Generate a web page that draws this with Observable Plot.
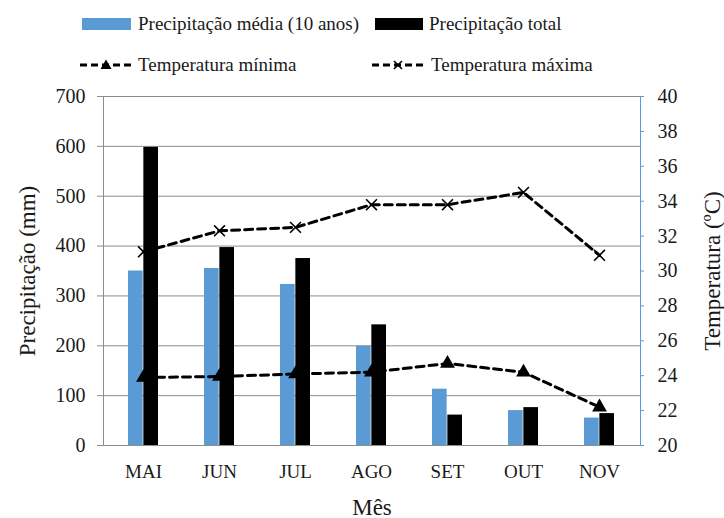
<!DOCTYPE html>
<html><head><meta charset="utf-8">
<script src="https://cdn.jsdelivr.net/npm/d3@7"></script>
<script src="https://cdn.jsdelivr.net/npm/@observablehq/plot@0.6"></script>
<style>
body{margin:0;background:#fff;font-family:"Liberation Serif","Times New Roman",serif;}
#wrap{width:724px;height:518px;position:relative;background:#fff;}
#legend{position:relative;height:80px;width:724px;font-size:19px;color:#1a1a1a;font-family:"Liberation Serif","Times New Roman",serif;}
.item{position:absolute;height:24px;display:flex;align-items:center;white-space:nowrap;}
.item span.lbl{font-family:"Liberation Serif","Times New Roman",serif;}
.sw{display:inline-block;height:12px;}
</style></head><body>
<div id="wrap"><div id="legend"></div><div id="chart"></div></div>
<script>
const months = ["MAI","JUN","JUL","AGO","SET","OUT","NOV"];
const precipMedia = [350, 355, 323, 199, 113, 70, 55];
const precipTotal = [598, 397, 375, 242, 61, 76, 64];
const tempMin = [23.9, 23.95, 24.1, 24.2, 24.7, 24.2, 22.2];
const tempMax = [31.1, 32.3, 32.5, 33.8, 33.8, 34.5, 30.9];
const precipTicks = [0, 100, 200, 300, 400, 500, 600, 700];
const tempTicks = [20, 22, 24, 26, 28, 30, 32, 34, 36, 38, 40];
const seriesNames = ["Precipitação média (10 anos)", "Precipitação total", "Temperatura mínima", "Temperatura máxima"];

const BLUE = "#5B9BD5";
// legend
const legend = document.getElementById("legend");
function addItem(left, cy, swatchHTML, label, gap) {
  const d = document.createElement("div");
  d.className = "item";
  d.style.left = left + "px";
  d.style.top = (cy - 12) + "px";
  d.innerHTML = swatchHTML + `<span class="lbl" style="margin-left:${gap}px">${label}</span>`;
  legend.appendChild(d);
}
const lineSw = (sym) => `<svg width="52" height="14" style="display:block"><line x1="0" x2="52" y1="7" y2="7" stroke="#000" stroke-width="3" stroke-dasharray="7,4"/>${sym}</svg>`;
addItem(82, 24, `<span class="sw" style="width:49px;background:${BLUE}"></span>`, seriesNames[0], 7);
addItem(375, 24, `<span class="sw" style="width:48px;background:#000"></span>`, seriesNames[1], 6);
addItem(80, 65, lineSw(`<path d="M26,1.5 L31.5,11 L20.5,11 Z" fill="#000"/>`), seriesNames[2], 6);
addItem(372, 65, lineSw(`<path d="M22,3 L30,11 M30,3 L22,11" stroke="#000" stroke-width="1.6"/>`), seriesNames[3], 7);

// chart
const W = 724, H = 438, ML = 103, MR = 84, MT = 16, MB = 73;
const step = (W - ML - MR) / months.length;
const half = step * 0.4 / 2;
const rows = months.map((m, i) => ({month: m, media: precipMedia[i], total: precipTotal[i], tmin: tempMin[i], tmax: tempMax[i]}));
const t2y = t => (t - 20) * 35;

const chart = Plot.plot({
  width: W, height: H, marginLeft: ML, marginRight: MR, marginTop: MT, marginBottom: MB,
  style: {fontFamily: "'Liberation Serif', 'Times New Roman', serif", background: "white", color: "#1a1a1a", overflow: "visible"},
  x: {type: "band", domain: months, paddingInner: 0.6, paddingOuter: 0.3, axis: null},
  y: {domain: [0, 700], axis: null, label: null},
  marks: [
    Plot.gridY(precipTicks, {stroke: "#8c8c8c", strokeOpacity: 1, strokeWidth: 1}),
    Plot.barY(rows, {x: "month", y: "media", fill: BLUE, insetRight: half}),
    Plot.barY(rows, {x: "month", y: "total", fill: "#000", insetLeft: half}),
    Plot.frame({anchor: "left", stroke: "#8c8c8c"}),
    Plot.frame({anchor: "right", stroke: BLUE, strokeDasharray: "1,1"}),
    Plot.axisY(precipTicks, {anchor: "left", tickSize: 6, tickPadding: 12, stroke: "#8c8c8c", fontSize: 20, label: null}),
    Plot.axisY(tempTicks.map(t2y), {anchor: "right", tickSize: 3, tickPadding: 14, stroke: BLUE, fontSize: 20, label: null, tickFormat: d => String(Math.round(d / 35 + 20))}),
    Plot.axisX({tickSize: 0, tickPadding: 19, fontSize: 19, label: null}),
    Plot.lineY(rows, {x: "month", y: d => t2y(d.tmin), stroke: "#000", strokeWidth: 3, strokeDasharray: "8,5"}),
    Plot.lineY(rows, {x: "month", y: d => t2y(d.tmax), stroke: "#000", strokeWidth: 3, strokeDasharray: "8,5"}),
    Plot.dot(rows, {x: "month", y: d => t2y(d.tmin), symbol: "triangle", fill: "#000", r: 5.5}),
    Plot.dot(rows, {x: "month", y: d => t2y(d.tmax), symbol: "times", stroke: "#000", strokeWidth: 1.6, r: 5}),
    Plot.text(["Precipitação (mm)"], {frameAnchor: "left", textAnchor: "middle", rotate: -90, dx: -76, fontSize: 23, fill: "#1a1a1a"}),
    Plot.text(["Temperatura (ºC)"], {frameAnchor: "right", textAnchor: "middle", rotate: -90, dx: 72, fontSize: 23, fill: "#1a1a1a"}),
    Plot.text(["Mês"], {frameAnchor: "bottom", dy: 69, fontSize: 23, fill: "#1a1a1a"})
  ]
});
document.getElementById("chart").appendChild(chart);
</script>
</body></html>
